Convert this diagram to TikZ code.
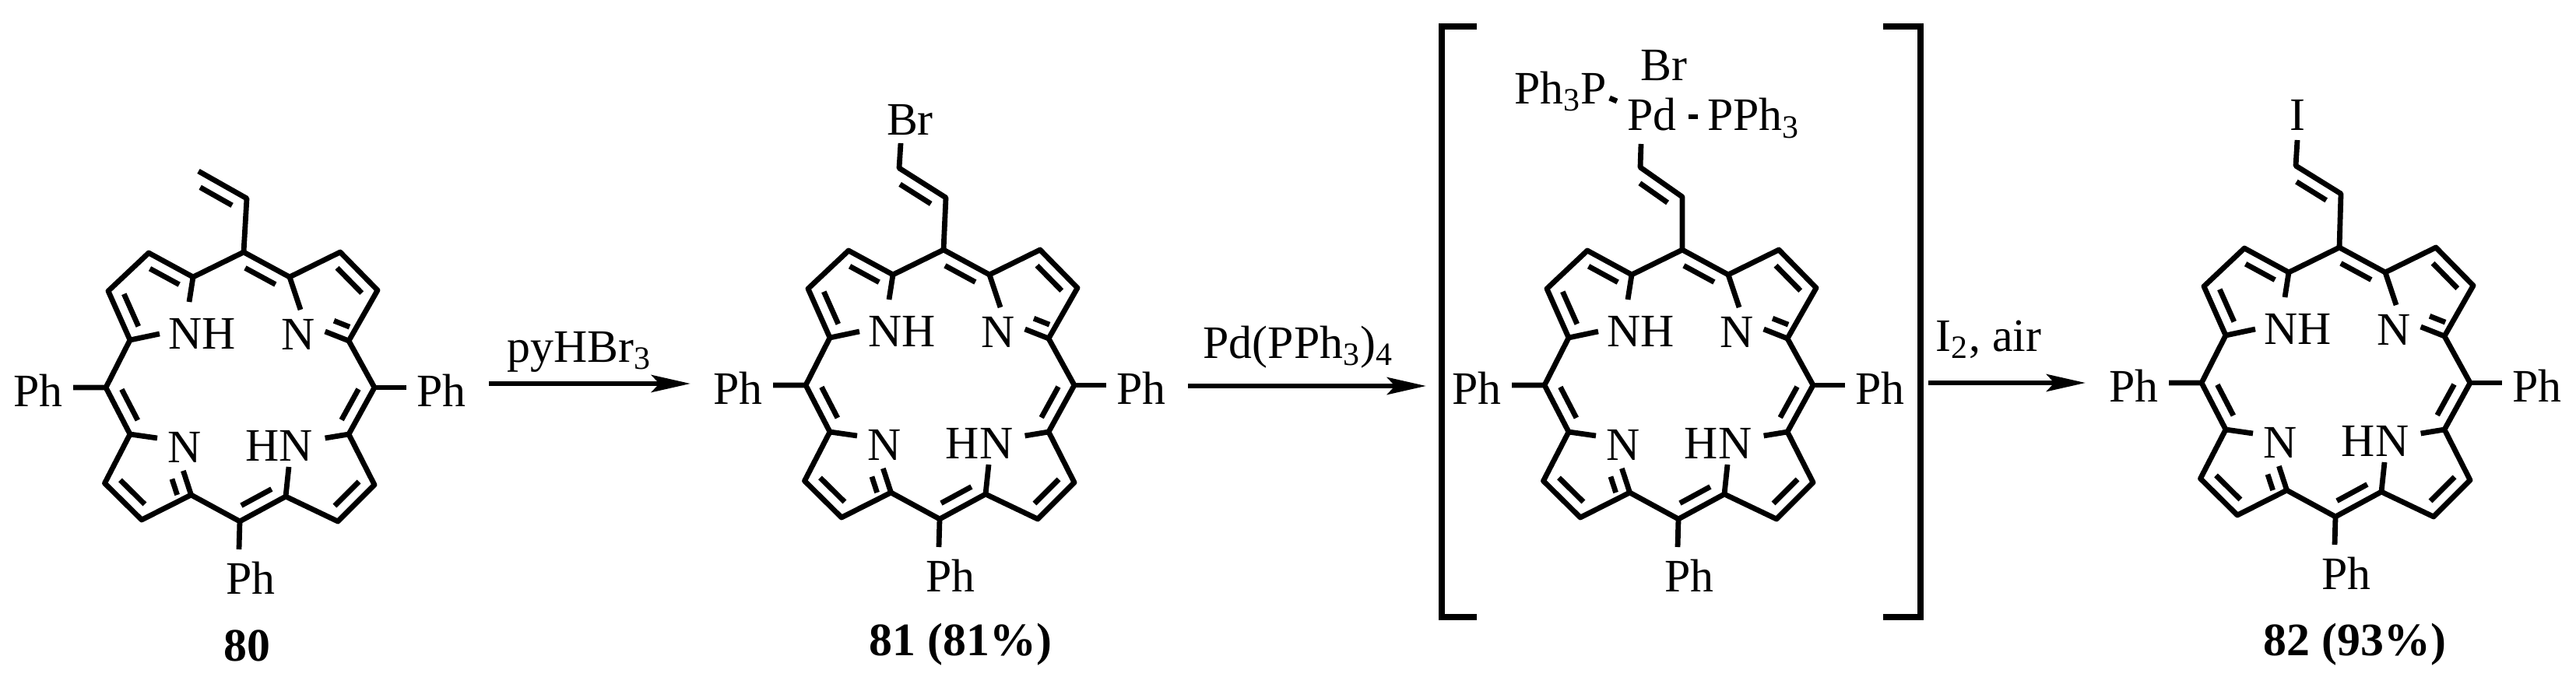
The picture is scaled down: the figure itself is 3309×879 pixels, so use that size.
\documentclass[tikz,border=0pt]{standalone}
\usepackage{fontspec}
\setmainfont{Liberation Serif}
\usetikzlibrary{calc,arrows.meta}
\tikzset{bond/.style={line width=0.068cm,line join=round},
  lbl/.style={inner sep=0pt,font=\fontsize{17}{20}\selectfont},
  cmpd/.style={inner sep=0pt,font=\fontsize{17}{20}\selectfont\bfseries},
  rxn/.style={line width=0.068cm,-{Stealth[length=0.5cm,width=0.22cm,inset=0.1cm]}}}
\newcommand\dbl[3]{%
  \coordinate (ft) at ($(#1)!(#3)!(#2)$);
  \coordinate (off) at ($(ft)!0.17cm!(#3)$);
  \draw[bond] ($(#1)!0.17!(#2)+(off)-(ft)$) -- ($(#2)!0.17!(#1)+(off)-(ft)$);}
\newcommand\porph[3]{%
 \begin{scope}[shift={(#2,#3)}]
  \coordinate (#1mt) at (0,0);
  \coordinate (#1aTL) at (-65,32);  \coordinate (#1bTL2) at (-122,1);
  \coordinate (#1bTL1) at (-174,50); \coordinate (#1aLu) at (-146,113);
  \coordinate (#1mL) at (-177,174); \coordinate (#1aLd) at (-146,234);
  \coordinate (#1bBL1) at (-178.5,297); \coordinate (#1bBL2) at (-131,344);
  \coordinate (#1aBL) at (-67.5,312); \coordinate (#1mB) at (-5,346);
  \coordinate (#1PhBe) at (-6,382); \coordinate (#1aBR) at (54,314);
  \coordinate (#1bBR2) at (121,346); \coordinate (#1bBR1) at (168,299);
  \coordinate (#1aRd) at (135,234); \coordinate (#1mR) at (168,174);
  \coordinate (#1aRu) at (135,114); \coordinate (#1bTR1) at (172,49);
  \coordinate (#1bTR2) at (124,0); \coordinate (#1aTR) at (59,32);
  \coordinate (#1PhLe) at (-219,174); \coordinate (#1PhRe) at (209,174);
  \coordinate (#1nTL) at (-70,64); \coordinate (#1nLu) at (-108,105);
  \coordinate (#1nTR) at (73,74); \coordinate (#1nRu) at (104.6,102);
  \coordinate (#1nLd) at (-111,239); \coordinate (#1nBL) at (-77.6,281);
  \coordinate (#1nBR) at (58,276); \coordinate (#1nRd) at (104.6,239);
  \coordinate (#1c) at (-3,174); \coordinate (#1pTL) at (-123,54);
  \coordinate (#1pTR) at (117,54); \coordinate (#1pBL) at (-123,294);
  \coordinate (#1pBR) at (117,294);
  \draw[bond] (#1PhLe) -- (#1mL) -- (#1aLu) -- (#1bTL1) -- (#1bTL2) -- (#1aTL) -- (#1mt)
    -- (#1aTR) -- (#1bTR2) -- (#1bTR1) -- (#1aRu) -- (#1mR) -- (#1aRd) -- (#1bBR1)
    -- (#1bBR2) -- (#1aBR) -- (#1mB) -- (#1aBL) -- (#1bBL2) -- (#1bBL1) -- (#1aLd) -- (#1mL);
  \draw[bond] (#1mR) -- (#1PhRe);
  \draw[bond] (#1mB) -- (#1PhBe);
  \draw[bond] (#1aTL) -- (#1nTL); \draw[bond] (#1aLu) -- (#1nLu);
  \draw[bond] (#1aTR) -- (#1nTR); \draw[bond] (#1aRu) -- (#1nRu);
  \draw[bond] (#1aLd) -- (#1nLd); \draw[bond] (#1aBL) -- (#1nBL);
  \draw[bond] (#1aBR) -- (#1nBR); \draw[bond] (#1aRd) -- (#1nRd);
  \dbl{#1bTL1}{#1aLu}{#1pTL}
  \dbl{#1bTL2}{#1aTL}{#1pTL}
  \dbl{#1mt}{#1aTR}{#1c}
  \dbl{#1bTR1}{#1bTR2}{#1pTR}
  \dbl{#1nRu}{#1aRu}{#1pTR}
  \dbl{#1mR}{#1aRd}{#1c}
  \dbl{#1bBR1}{#1bBR2}{#1pBR}
  \dbl{#1mB}{#1aBR}{#1c}
  \dbl{#1bBL1}{#1bBL2}{#1pBL}
  \dbl{#1nBL}{#1aBL}{#1pBL}
  \dbl{#1mL}{#1aLd}{#1c}
  \node[lbl] (#1NH) at (-53.5,105) {NH};
  \node[lbl] (#1N1) at (70,106) {N};
  \node[lbl] (#1N2) at (-76,251) {N};
  \node[lbl] (#1HN) at (46,249) {HN};
  \node[lbl] (#1PhL) at (-264,178) {Ph};
  \node[lbl] (#1PhR) at (254,178) {Ph};
  \node[lbl] (#1PhB) at (9,419) {Ph};
 \end{scope}}
\begin{document}
\begin{tikzpicture}[x=0.01cm,y=-0.01cm]
\useasboundingbox (0,0) rectangle (3309,879);
\fill[white] (0,0) rectangle (3309,879);
% 80
\porph{a}{313}{324}
\begin{scope}[shift={(313,324)}]
 \coordinate (av1) at (4,-69); \coordinate (av2) at (-58,-104); \coordinate (avc) at (-60,-40);
 \draw[bond] (amt) -- (av1) -- (av2);
 \dbl{av1}{av2}{avc}
\end{scope}
\node[cmpd] (l80) at (317,830) {80};
% 81
\porph{b}{1212}{321}
\begin{scope}[shift={(1212,321)}]
 \coordinate (bv1) at (3,-67); \coordinate (bv2) at (-57,-105); \coordinate (bv3) at (-55,-137);
 \coordinate (bvc) at (-60,-40);
 \node[lbl] (bBr) at (-43,-167) {Br};
 \draw[bond] (bmt) -- (bv1) -- (bv2) -- (bv3);
 \dbl{bv1}{bv2}{bvc}
\end{scope}
\node[cmpd] (l81) at (1234,828) {81 (81\%)};
% complex
\porph{c}{2161}{321}
\begin{scope}[shift={(2161,321)}]
 \coordinate (cv1) at (0,-68); \coordinate (cv2) at (-54,-106); \coordinate (cv3) at (-53,-136);
 \coordinate (cvc) at (-60,-40);
 \draw[bond] (cmt) -- (cv1) -- (cv2) -- (cv3);
 \dbl{cv1}{cv2}{cvc}
 \node[lbl,anchor=base west] (cPd) at (-71,-153) {Pd};
 \node[lbl,anchor=base west] (cBr) at (-54,-217) {Br};
 \node[lbl,anchor=base west] (cP1) at (-216.7,-187.6) {Ph\textsubscript{3}P};
 \node[lbl,anchor=base west] (cP2) at (31.6,-153) {PPh\textsubscript{3}};
 \coordinate (cd1) at (-93.4,-195); \coordinate (cd2) at (-84,-191);
 \coordinate (cd3) at (7.5,-171); \coordinate (cd4) at (20,-171);
 \draw[bond] (cd1) -- (cd2);
 \draw[bond] (cd3) -- (cd4);
\end{scope}
% brackets
\coordinate (bl1) at (1897,34); \coordinate (bl2) at (1852,34);
\coordinate (bl3) at (1852,793); \coordinate (bl4) at (1897,793);
\coordinate (br1) at (2419,34); \coordinate (br2) at (2467,34);
\coordinate (br3) at (2467,793); \coordinate (br4) at (2419,793);
\draw[line width=0.075cm,line join=miter] (bl1) -- (bl2) -- (bl3) -- (bl4);
\draw[line width=0.075cm,line join=miter] (br1) -- (br2) -- (br3) -- (br4);
% 82
\porph{d}{3005}{318}
\begin{scope}[shift={(3005,318)}]
 \coordinate (dv1) at (2,-69); \coordinate (dv2) at (-56,-105); \coordinate (dv3) at (-54,-138);
 \coordinate (dvc) at (-60,-40);
 \node[lbl] (dI) at (-54,-170) {I};
 \draw[bond] (dmt) -- (dv1) -- (dv2) -- (dv3);
 \dbl{dv1}{dv2}{dvc}
\end{scope}
\node[cmpd] (l82) at (3025,828) {82 (93\%)};
% arrows
\coordinate (r1s) at (628,493); \coordinate (r1e) at (887,493);
\coordinate (r2s) at (1526,496); \coordinate (r2e) at (1832,496);
\coordinate (r3s) at (2477,492); \coordinate (r3e) at (2679,492);
\draw[rxn] (r1s) -- (r1e);
\draw[rxn] (r2s) -- (r2e);
\draw[rxn] (r3s) -- (r3e);
\node[lbl,anchor=base west] (t1) at (651,465) {pyHBr\textsubscript{3}};
\node[lbl,anchor=base west] (t2) at (1545,460) {Pd(PPh\textsubscript{3})\textsubscript{4}};
\node[lbl,anchor=base west] (t3) at (2486,451) {I\textsubscript{2}, air};
\end{tikzpicture}
\end{document}
